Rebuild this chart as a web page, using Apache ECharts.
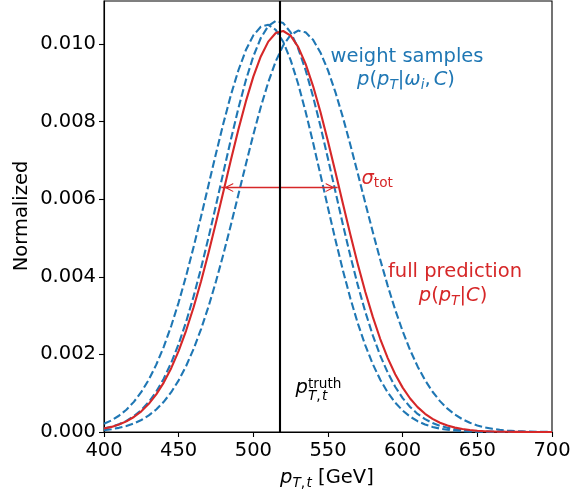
<!DOCTYPE html>
<html><head><meta charset="utf-8">
<script src="https://cdn.jsdelivr.net/npm/echarts@6/dist/echarts.min.js"></script>
<style>html,body{margin:0;padding:0;background:#fff}#c{width:571px;height:493px}</style>
</head><body><div id="c"></div>
<script>
// ---------------- data ----------------
const pt = [400,405,410,415,420,425,430,435,440,445,450,455,460,465,470,475,480,485,490,495,
            500,505,510,515,520,525,530,535,540,545,550,555,560,565,570,575,580,585,590,595,
            600,605,610,615,620,625,630,635,640,645,650,655,660,665,670,675,680,685,690,695,700];

const fullPrediction = [0.0000893,0.000132,0.000192,0.000274,0.000386,0.000533,0.000725,0.000969,0.001274,0.001646,
  0.002093,0.002615,0.003215,0.003886,0.004620,0.005400,0.006207,0.007016,0.007797,0.008522,
  0.009160,0.009681,0.010063,0.010285,0.010337,0.010216,0.009928,0.009489,0.008917,0.008241,
  0.007490,0.006693,0.005882,0.005083,0.004319,0.003610,0.002967,0.002397,0.001905,0.001489,
  0.001144,0.000864,0.000642,0.000469,0.000337,0.000238,0.000165,0.000113,0.000076,0.000050,
  0.000033,0.000021,0.000013,0.000008,0.000005,0.000003,0.000002,0.000001,0.000001,0,0];

const weightSample1 = [0.000211,0.000300,0.000419,0.000575,0.000777,0.001032,0.001349,0.001736,0.002195,0.002732,
  0.003343,0.004026,0.004769,0.005557,0.006368,0.007181,0.007963,0.008689,0.009325,0.009845,
  0.010224,0.010445,0.010496,0.010367,0.010058,0.009586,0.008976,0.008256,0.007461,0.006623,
  0.005776,0.004949,0.004164,0.003443,0.002796,0.002231,0.001749,0.001347,0.001019,0.000757,
  0.000553,0.000396,0.000279,0.000193,0.000131,0.000088,0.000058,0.000037,0.000024,0.000015,
  0.000009,0.000005,0.000003,0.000002,0.000001,0.000001,0,0,0,0,0];

const weightSample2 = [0.000091,0.000136,0.000199,0.000287,0.000407,0.000567,0.000775,0.001041,0.001375,0.001783,
  0.002271,0.002843,0.003496,0.004225,0.005015,0.005849,0.006702,0.007545,0.008345,0.009069,
  0.009683,0.010156,0.010466,0.010596,0.010540,0.010301,0.009890,0.009329,0.008646,0.007873,
  0.007043,0.006190,0.005345,0.004534,0.003779,0.003095,0.002490,0.001968,0.001529,0.001166,
  0.000874,0.000644,0.000466,0.000331,0.000231,0.000159,0.000107,0.000071,0.000046,0.000029,
  0.000019,0.000012,0.000007,0.000004,0.000002,0.000001,0,0,0,0,0];

const weightSample3 = [0.0000485,0.0000725,0.000107,0.000154,0.000220,0.000309,0.000427,0.000581,0.000778,0.001026,
  0.001332,0.001702,0.002141,0.002653,0.003235,0.003884,0.004591,0.005343,0.006121,0.006903,
  0.007665,0.008379,0.009018,0.009554,0.009966,0.010234,0.010347,0.010302,0.010109,0.009778,
  0.009320,0.008756,0.008107,0.007399,0.006655,0.005900,0.005154,0.004439,0.003767,0.003152,
  0.002598,0.002111,0.001690,0.001334,0.001038,0.000796,0.000602,0.000448,0.000329,0.000238,
  0.000170,0.000119,0.000083,0.000056,0.000038,0.000025,0.000016,0.000010,0.000007,0.000004,0.000003];

const ptTruth = 518;
const sigmaLeft = 478.5, sigmaRight = 556.5, sigmaLevel = 0.0063;
const xTicks = [400,450,500,550,600,650,700];
const yTicks = [0,0.002,0.004,0.006,0.008,0.010];

// ---------------- styling ----------------
const FONT = 'DejaVu Sans';
const S = 19.5, s = 13.65;
const BLUE = '#1f77b4', RED = '#d62728';
const MID = 0.346;

const mctx = document.createElement('canvas').getContext('2d');
function tw(t,size,it){ mctx.font=(it?'italic ':'')+size+'px "'+FONT+'"'; return mctx.measureText(t).width; }

function mathText(frags, x0, baseline, color, anchor){
  let cur=0, mark=0, maxEnd=0; const items=[];
  frags.forEach(f=>{
    const size = f.sc ? s : S;
    if(f.reset) cur = mark;
    if(f.mark) mark = cur;
    const w = tw(f.t,size,f.it);
    items.push({t:f.t,size,it:f.it,x:cur,dy:f.dy||0});
    cur += w + (f.gap||0);
    maxEnd = Math.max(maxEnd, cur);
  });
  const start = anchor==='center' ? x0 - maxEnd/2 : x0;
  return items.map(it=>({
    type:'text', silent:true, x:start+it.x, y:baseline+it.dy-MID*it.size, z:100,
    style:{text:it.t, fill:color, fontSize:it.size, fontFamily:FONT, fontStyle:it.it?'italic':'normal',
           align:'left', verticalAlign:'middle'}
  }));
}
function plain(t, x, baseline, color, align){
  return {type:'text', silent:true, x, y:baseline-MID*S, z:100,
    style:{text:t, fill:color, fontSize:S, fontFamily:FONT, align:align||'center', verticalAlign:'middle'}};
}

const graphics = [].concat(
  [plain('weight samples', 407, 64, BLUE)],
  mathText([{t:'p',it:1},{t:'('},{t:'p',it:1},{t:'T',it:1,sc:1,dy:2.7},{t:'|'},{t:'ω',it:1},{t:'i',it:1,sc:1,dy:2.7},{t:',',gap:3},{t:'C',it:1},{t:')'}], 406, 87, BLUE, 'center'),
  mathText([{t:'σ',it:1},{t:'tot',sc:1,dy:1.7}], 361.5, 186, RED, 'left'),
  [plain('full prediction', 455, 279, RED)],
  mathText([{t:'p',it:1},{t:'('},{t:'p',it:1},{t:'T',it:1,sc:1,dy:2.7},{t:'|'},{t:'C',it:1},{t:')'}], 453, 303, RED, 'center'),
  mathText([{t:'p',it:1},{t:'truth',sc:1,dy:-5.5,mark:1},{t:'T',it:1,sc:1,dy:6.5,reset:1},{t:',',sc:1,dy:6.5,gap:1.5},{t:'t',it:1,sc:1,dy:6.5}], 295.5, 395, '#000', 'left'),
  mathText([{t:'p',it:1},{t:'T',it:1,sc:1,dy:3},{t:',',sc:1,dy:3,gap:1.5},{t:'t',it:1,sc:1,dy:3},{t:' [GeV]'}], 280, 485, '#000', 'left'),
  [{type:'text', silent:true, x:22, y:216, rotation:Math.PI/2, z:100,
    style:{text:'Normalized', fill:'#000', fontSize:S, fontFamily:FONT, align:'center', verticalAlign:'middle'}}]
);

function lineSeries(name, arr, color, dashed, z){
  return {name, type:'line', data: pt.map((x,i)=>[x, arr[i]]), showSymbol:false, symbol:'none',
    smooth:false, z,
    lineStyle:{color, width:2.1, type: dashed ? [7.7,3.3] : 'solid', cap:'butt', join:'round'}};
}

// open arrowhead; invisible extension so its tip sits ~3px inside the end point (like matplotlib's shrink)
const chevron = 'path://M5,0 L5,0 Z M5,15 L10,24 L8.7,24 L5,17.6 L1.3,24 L0,24 Z';

const chart = echarts.init(document.getElementById('c'), null, {renderer:'canvas'});
chart.setOption({
  animation:false,
  backgroundColor:'#ffffff',
  grid:{left:104,right:19,top:1,bottom:61,outerBoundsMode:'none',containLabel:false,
    show:true,borderColor:'#000',borderWidth:1.1,backgroundColor:'transparent'},
  xAxis:{type:'value',min:xTicks[0],max:xTicks[xTicks.length-1],interval:50,
    axisLine:{show:true,onZero:false,lineStyle:{color:'#000',width:1.1}},
    axisTick:{show:true,length:5,inside:false,lineStyle:{color:'#000',width:1.1}},
    axisLabel:{color:'#000',fontSize:S,fontFamily:FONT,margin:9},
    splitLine:{show:false}},
  yAxis:{type:'value',min:0,max:0.01111,interval:0.002,
    axisLine:{show:true,lineStyle:{color:'#000',width:1.1}},
    axisTick:{show:true,length:5,inside:false,customValues:yTicks,lineStyle:{color:'#000',width:1.1}},
    axisLabel:{color:'#000',fontSize:S,fontFamily:FONT,margin:8,customValues:yTicks,
      formatter:v=> v.toFixed(3)},
    splitLine:{show:false}},
  series:[
    lineSeries('w3', weightSample3, BLUE, true, 2),
    lineSeries('w1', weightSample1, BLUE, true, 2),
    lineSeries('w2', weightSample2, BLUE, true, 2),
    Object.assign(lineSeries('full', fullPrediction, RED, false, 3), {
      markLine:{silent:true, animation:false, symbol:[chevron, chevron], symbolSize:[9,24],
        label:{show:false}, lineStyle:{color:RED, width:1.3, type:'solid'},
        data:[[{coord:[sigmaLeft,sigmaLevel]},{coord:[sigmaRight,sigmaLevel]}]]}
    }),
    {name:'truth', type:'line', data:[], z:5,
      markLine:{silent:true, animation:false, symbol:'none', label:{show:false},
        lineStyle:{color:'#000', width:2.1, type:'solid'}, data:[{xAxis:ptTruth}]}}
  ],
  graphic: graphics
});
</script></body></html>
